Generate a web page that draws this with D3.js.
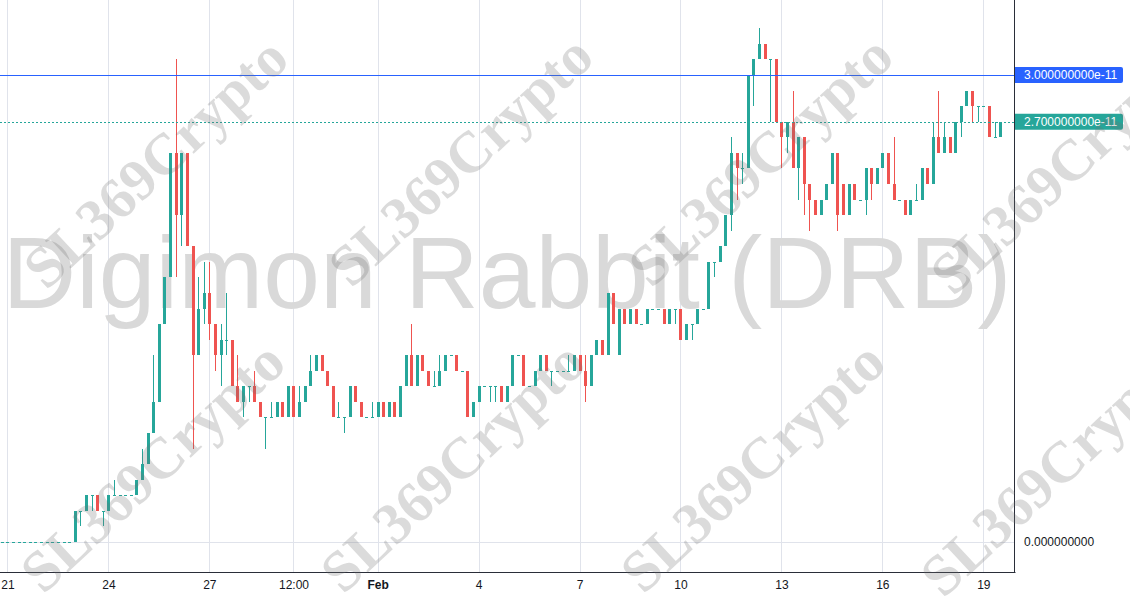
<!DOCTYPE html>
<html><head><meta charset="utf-8">
<script src="https://cdn.jsdelivr.net/npm/d3@7"></script>
<style>html,body{margin:0;padding:0;background:#fff;} svg{display:block;}</style>
</head><body><svg id="c" width="1130" height="600"></svg>
<script>
// Prices are in units of 1e-12 (the coin trades in whole ticks of 1e-12)
const PRICE_UNIT = 1e-12;
// first candle: 2024-01-20 20:00 UTC, 4-hour candles
const FIRST_CANDLE = Date.UTC(2024, 0, 20, 20);
const CANDLE_HOURS = 4;

const openP = [0,0,0,0,0,0,0,0,0,0,0,0,0,
  0,2,2,3,3,2,
  2,3,3,3,3,3,4,5,7,9,
  14,17,25,21,25,19,12,15,16,14,
  12,13,13,10,9,10,10,9,8,8,
  8,9,8,10,8,9,10,11,12,11,
  10,8,8,8,10,9,8,8,8,9,
  8,9,8,10,12,10,12,11,10,10,
  11,12,12,11,11,8,9,10,10,10,
  10,9,10,12,12,10,10,11,12,11,
  11,11,11,11,12,11,10,12,13,12,
  16,12,15,14,15,14,14,15,15,15,
  14,15,15,13,14,14,15,15,18,18,
  19,21,25,24,24,30,31,32,31,31,
  27,26,27,24,26,23,22,21,22,23,
  25,23,21,23,22,22,24,23,24,25,
  23,22,22,21,22,22,24,23,26,25,
  26,25,27,28,29,28,28,28,26,26];
const highP = [0,0,0,0,0,0,0,0,0,0,0,0,0,
  2,2,3,3,3,2,
  3,4,3,3,3,4,6,7,12,14,
  17,25,31,25,25,19,17,18,18,14,
  14,16,13,12,10,10,11,9,8,9,
  9,9,10,10,10,10,12,12,12,11,
  10,9,8,10,10,9,8,9,9,9,
  9,9,10,12,14,12,12,11,11,12,
  12,12,12,11,11,9,10,10,10,10,
  10,10,12,12,12,10,11,12,12,11,
  11,11,12,12,12,12,12,13,13,16,
  16,15,15,15,15,14,15,15,15,15,
  15,15,15,14,14,15,15,18,18,19,
  21,26,25,25,30,31,33,32,31,31,
  27,27,29,26,26,23,22,22,23,25,
  25,23,23,23,22,24,24,24,25,25,
  26,22,22,22,23,24,24,27,29,27,
  26,27,28,29,29,28,28,28,27,27];
const lowP = [0,0,0,0,0,0,0,0,0,0,0,0,0,
  0,1,2,2,2,1,
  2,3,3,3,3,3,4,5,7,9,
  14,17,17,19,19,6,12,14,13,11,
  10,12,10,9,8,9,9,8,6,8,
  8,8,8,8,8,9,10,11,11,10,
  8,8,7,8,9,8,8,8,8,8,
  8,8,8,10,10,10,11,10,10,10,
  11,12,11,11,8,8,9,10,9,9,
  9,9,10,12,10,10,10,11,11,10,
  11,11,11,11,11,9,10,12,12,12,
  14,12,14,14,14,14,14,15,15,14,
  14,14,13,13,13,14,15,15,17,18,
  19,20,22,23,24,28,31,31,27,27,
  24,25,24,22,21,20,21,21,22,23,
  20,21,21,22,22,21,22,23,24,23,
  22,22,21,21,22,22,23,23,25,25,
  25,25,26,28,27,27,28,26,26,26];
const closeP = [0,0,0,0,0,0,0,0,0,0,0,0,0,
  2,2,3,3,2,2,
  3,3,3,3,3,4,5,7,9,14,
  17,25,21,25,19,12,15,16,14,12,
  13,13,10,9,10,10,9,8,8,8,
  9,8,10,8,9,10,11,12,11,10,
  8,8,8,10,9,8,8,8,9,8,
  9,8,10,12,10,12,11,10,10,11,
  12,12,11,11,8,9,10,10,10,10,
  9,10,12,12,10,10,11,12,11,11,
  11,11,11,12,11,10,12,13,12,16,
  14,15,14,15,14,14,15,15,15,14,
  15,15,13,14,14,15,15,18,18,19,
  21,25,24,24,30,31,32,31,31,27,
  26,27,24,26,23,22,21,22,23,25,
  21,21,23,22,22,24,23,24,25,23,
  22,22,21,22,22,24,23,26,25,26,
  25,27,28,29,28,28,28,26,26,27];

const tickDates = [Date.UTC(2024,0,21), Date.UTC(2024,0,24), Date.UTC(2024,0,27), Date.UTC(2024,0,29,12),
  Date.UTC(2024,1,1), Date.UTC(2024,1,4), Date.UTC(2024,1,7), Date.UTC(2024,1,10),
  Date.UTC(2024,1,13), Date.UTC(2024,1,16), Date.UTC(2024,1,19)];
const tickLabels = ["21","24","27","12:00","Feb","4","7","10","13","16","19"];
const boldTicks = ["Feb"];

const priceTicks = [0];
const priceTickLabels = ["0.000000000"];
const markerPrices = [30e-12, 27e-12];
const markerLabels = ["3.000000000e-11", "2.700000000e-11"];

const titleText = "Digimon Rabbit (DRB)";
const stampText = "SL369Crypto";
const stampCenters = [[155,162],[460,160],[760,160],[1062,168],[152,466],[452,466],[752,466],[1052,470]];

// ---------------------------------------------------------------
const W = 1130, H = 600, paneW = 1015, paneH = 572;
const UP = "#26a69a", DOWN = "#ef5350";
const svg = d3.select("#c");
const candles = openP.map((o,i) => ({
  t: new Date(FIRST_CANDLE + i*CANDLE_HOURS*3600e3),
  o: o*PRICE_UNIT, h: highP[i]*PRICE_UNIT, l: lowP[i]*PRICE_UNIT, c: closeP[i]*PRICE_UNIT
}));

const x = d3.scaleUtc()
  .domain([new Date(Date.UTC(2024,0,24)), new Date(Date.UTC(2024,1,19))])
  .range([108.4, 983.3]);
const y = d3.scaleLinear().domain([0, 30e-12]).range([542, 75]);

svg.append("rect").attr("width", W).attr("height", H).attr("fill", "#fff");

const pane = svg.append("g");
// vertical grid
pane.selectAll("line.vg").data(tickDates).join("line")
  .attr("x1", d => Math.round(x(new Date(d))) + 0.5).attr("x2", d => Math.round(x(new Date(d))) + 0.5)
  .attr("y1", 0).attr("y2", paneH).attr("stroke", "#e0e3eb").attr("stroke-width", 1);
// horizontal grid
pane.selectAll("line.hg").data(priceTicks).join("line")
  .attr("x1", 0).attr("x2", paneW)
  .attr("y1", d => Math.round(y(d)) + 0.5).attr("y2", d => Math.round(y(d)) + 0.5)
  .attr("stroke", "#e0e3eb").attr("stroke-width", 1);

// title watermark
pane.append("text").attr("x", 507).attr("y", 308).attr("text-anchor", "middle")
  .attr("font-family", "'Liberation Sans', Arial, sans-serif").attr("font-size", 102)
  .attr("fill", "#d9d9d9").text(titleText);

// candles
const cg = pane.append("g");
const bodyW = 3;
cg.selectAll("rect.wick").data(candles).join("rect")
  .attr("x", d => Math.round(x(d.t)))
  .attr("width", 1)
  .attr("y", d => Math.round(y(d.h)))
  .attr("height", d => Math.max(1, Math.round(y(d.l)) - Math.round(y(d.h))))
  .attr("fill", d => d.c >= d.o ? UP : DOWN);
cg.selectAll("rect.body").data(candles).join("rect")
  .attr("x", d => Math.round(x(d.t)) - 1)
  .attr("width", bodyW)
  .attr("y", d => Math.round(y(Math.max(d.o, d.c))))
  .attr("height", d => Math.max(1, Math.round(y(Math.min(d.o, d.c))) - Math.round(y(Math.max(d.o, d.c)))))
  .attr("fill", d => d.c >= d.o ? UP : DOWN);

// price lines
pane.append("line").attr("x1", 0).attr("x2", paneW)
  .attr("y1", Math.round(y(markerPrices[0])) + 0.5).attr("y2", Math.round(y(markerPrices[0])) + 0.5)
  .attr("stroke", "#2962ff").attr("stroke-width", 1);
pane.append("line").attr("x1", 0).attr("x2", paneW)
  .attr("y1", Math.round(y(markerPrices[1])) + 0.5).attr("y2", Math.round(y(markerPrices[1])) + 0.5)
  .attr("stroke", UP).attr("stroke-width", 1).attr("stroke-dasharray", "2,2");

// axes
const xAxis = d3.axisBottom(x).tickValues(tickDates.map(d => new Date(d)))
  .tickFormat((d,i) => tickLabels[i]).tickSize(0).tickPadding(8);
const gx = svg.append("g").attr("transform", `translate(0,${paneH})`).call(xAxis);
gx.select(".domain").remove();
gx.selectAll("text").attr("font-family", "'Liberation Sans', Arial, sans-serif")
  .attr("font-size", 12).attr("fill", "#131722")
  .attr("font-weight", (d,i) => boldTicks.includes(tickLabels[i]) ? "bold" : "normal");

const yAxis = d3.axisRight(y).tickValues(priceTicks).tickFormat((d,i) => priceTickLabels[i]).tickSize(0).tickPadding(9);
const gy = svg.append("g").attr("transform", `translate(${paneW},0)`).call(yAxis);
gy.select(".domain").remove();
gy.selectAll("text").attr("font-family", "'Liberation Sans', Arial, sans-serif")
  .attr("font-size", 12).attr("fill", "#131722");

svg.append("line").attr("x1", 0).attr("x2", paneW + 0.5).attr("y1", paneH + 0.5).attr("y2", paneH + 0.5)
  .attr("stroke", "#2a2e39");
svg.append("line").attr("x1", paneW - 0.5).attr("x2", paneW - 0.5).attr("y1", 0).attr("y2", paneH + 1)
  .attr("stroke", "#2a2e39");

// price markers on the axis
const markerColors = ["#2962ff", UP];
markerPrices.forEach((p, i) => {
  const yy = y(p);
  svg.append("path")
    .attr("d", `M${paneW},${yy-8} H${paneW+106} a2,2 0 0 1 2,2 V${yy+6} a2,2 0 0 1 -2,2 H${paneW} Z`)
    .attr("fill", markerColors[i]);
  svg.append("text").attr("x", paneW + 9).attr("y", yy).attr("dy", "0.35em")
    .attr("font-family", "'Liberation Sans', Arial, sans-serif").attr("font-size", 12)
    .attr("fill", "#fff").text(markerLabels[i]);
});

// stamp watermarks
svg.append("g").selectAll("text").data(stampCenters).join("text")
  .attr("transform", d => `translate(${d[0]},${d[1]}) rotate(-43)`)
  .attr("text-anchor", "middle").attr("dy", "0.35em")
  .attr("font-family", "'Liberation Serif', 'Times New Roman', serif").attr("font-weight", "bold")
  .attr("font-size", 58).attr("fill", "rgba(110,110,110,0.25)").text(stampText);
</script></body></html>
